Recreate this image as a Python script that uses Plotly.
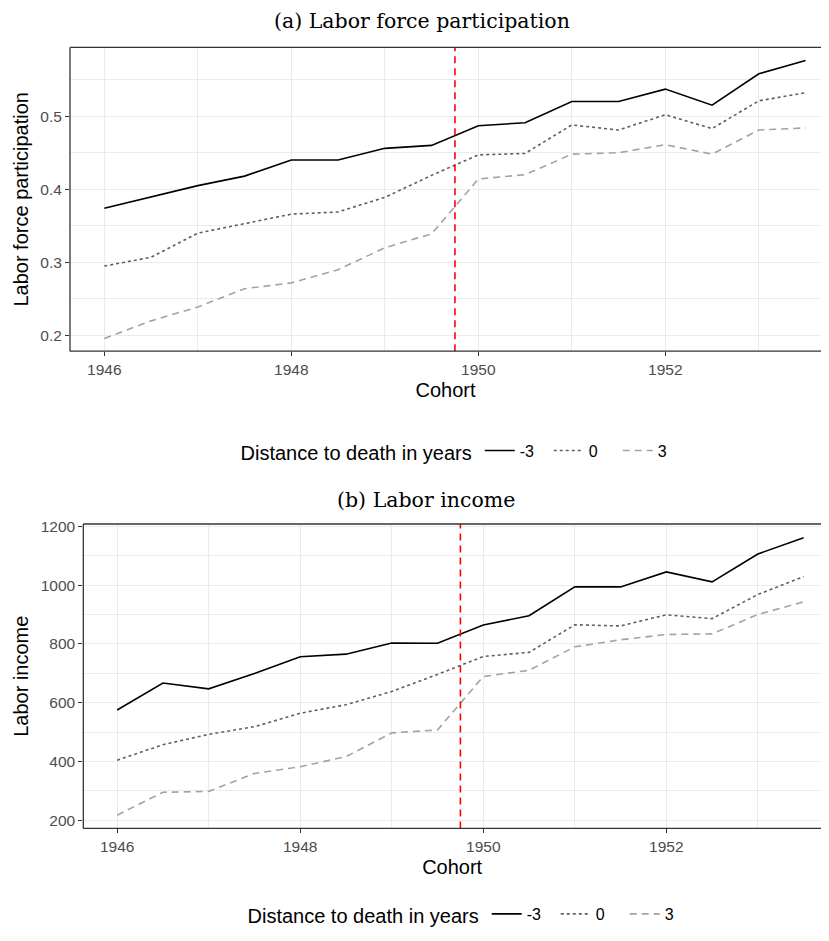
import plotly.graph_objects as go

# ---------------- data ----------------
cohort = [1946, 1946.5, 1947, 1947.5, 1948, 1948.5, 1949, 1949.5,
          1950, 1950.5, 1951, 1951.5, 1952, 1952.5, 1953, 1953.5]

lfp_m3 = [0.374, 0.390, 0.405, 0.418, 0.440, 0.440, 0.456, 0.460,
          0.487, 0.491, 0.520, 0.520, 0.537, 0.515, 0.558, 0.576]
lfp_0 = [0.295, 0.307, 0.340, 0.353, 0.366, 0.369, 0.389, 0.419,
         0.447, 0.449, 0.488, 0.481, 0.502, 0.483, 0.521, 0.532]
lfp_3 = [0.196, 0.220, 0.239, 0.264, 0.272, 0.290, 0.320, 0.339,
         0.414, 0.420, 0.448, 0.450, 0.461, 0.448, 0.481, 0.484]

inc_m3 = [575, 667, 647, 699, 756, 765, 803, 802,
          864, 896, 994, 994, 1045, 1011, 1106, 1161]
inc_0 = [404, 457, 492, 518, 564, 593, 638, 696,
         757, 771, 865, 861, 899, 886, 968, 1029]
inc_3 = [217, 295, 298, 359, 382, 416, 497, 507,
         689, 710, 790, 814, 832, 834, 900, 943]

series_names = ["-3", "0", "3"]
cutoff = 1949.75

titles = ["(a) Labor force participation", "(b) Labor income"]
y_titles = ["Labor force participation", "Labor income"]
x_title = "Cohort"
legend_title = "Distance to death in years"

# ---------------- style ----------------
# the page body has an 8px margin on every side; fit the figure inside it
OFF = 8
W, H = 829 - 2 * OFF, 941 - 2 * OFF
K = 0.988  # observed vertical scale of the rendered page
styles = [dict(color="#000000", width=1.6, dash="solid"),
          dict(color="#5f5f5f", width=1.6, dash="dot"),
          dict(color="#a3a3a3", width=1.6, dash="7px,5px")]
grid = "#EBEBEB"
border = "#333333"
tickfont = dict(family="Liberation Sans, Arial", size=15.5, color="#4D4D4D")
titlefont = dict(family="Liberation Sans, Arial", size=20, color="#000000")


def px_x(p):
    return (p - OFF) / W


def px_y(p):
    return 1 - (p / K - OFF) / H


fig = go.Figure()

panels = [
    dict(data=[lfp_m3, lfp_0, lfp_3], xa="x", ya="y", legend="legend"),
    dict(data=[inc_m3, inc_0, inc_3], xa="x2", ya="y2", legend="legend2"),
]

for p in panels:
    for name, vals, st in zip(series_names, p["data"], styles):
        fig.add_trace(go.Scatter(
            x=cohort, y=vals, mode="lines", name=name,
            line=dict(color=st["color"], width=st["width"], dash=st["dash"]),
            xaxis=p["xa"], yaxis=p["ya"], legend=p["legend"],
            showlegend=True))


def xaxis_cfg(domain, rng, anchor):
    return dict(
        domain=domain, range=rng, anchor=anchor,
        tickvals=[1946, 1948, 1950, 1952],
        ticktext=["1946", "1948", "1950", "1952"],
        ticks="outside", ticklen=4, tickwidth=1, tickcolor=border,
        tickfont=tickfont,
        showgrid=True, gridcolor=grid, gridwidth=1.3,
        minor=dict(tickvals=[1947, 1949, 1951, 1953], showgrid=True,
                   gridcolor=grid, gridwidth=0.8, ticks=""),
        showline=False,
        zeroline=False, automargin=False,
        title=dict(text=x_title, font=titlefont, standoff=6),
    )


def yaxis_cfg(domain, rng, anchor, tv, minor_tv, title):
    return dict(
        domain=domain, range=rng, anchor=anchor,
        tickvals=tv, ticktext=[str(v) for v in tv],
        ticks="outside", ticklen=4, tickwidth=1, tickcolor=border,
        tickfont=tickfont,
        showgrid=True, gridcolor=grid, gridwidth=1.3,
        minor=dict(tickvals=minor_tv, showgrid=True,
                   gridcolor=grid, gridwidth=0.8, ticks=""),
        showline=False,
        zeroline=False, automargin=False,
        title=dict(text=title, font=titlefont, standoff=6),
    )


# panels run past the visible right edge of the window
fig.update_layout(
    xaxis=xaxis_cfg([px_x(70), 1], [1945.633, 1953.665], "y"),
    yaxis=yaxis_cfg([px_y(350.7), px_y(47.3)], [0.1785, 0.594], "x",
                    [0.2, 0.3, 0.4, 0.5], [0.25, 0.35, 0.45, 0.55],
                    y_titles[0]),
    xaxis2=xaxis_cfg([px_x(83.3), 1], [1945.63, 1953.69], "y2"),
    yaxis2=yaxis_cfg([px_y(827.3), px_y(523.3)], [172, 1208], "x2",
                     [200, 400, 600, 800, 1000, 1200],
                     [300, 500, 700, 900, 1100], y_titles[1]),
)

for xa, ya in [("x", "y"), ("x2", "y2")]:
    fig.add_shape(type="line", xref=xa, yref=ya + " domain",
                  x0=cutoff, x1=cutoff, y0=0, y1=1,
                  line=dict(color="#FF0000", width=1.6, dash="7px,5px"),
                  layer="above")
    # panel border: left, top, bottom (right side lies outside the window)
    for (x0, y0, x1, y1) in [(0, 0, 0, 1), (0, 1, 1.02, 1), (0, 0, 1.02, 0)]:
        fig.add_shape(type="line", xref=xa + " domain", yref=ya + " domain",
                      x0=x0, y0=y0, x1=x1, y1=y1,
                      line=dict(color=border, width=1.3), layer="above")

legend_common = dict(
    orientation="h", xanchor="center", yanchor="middle",
    title=dict(text=legend_title, side="left",
               font=dict(family="Liberation Sans, Arial", size=20, color="#000")),
    font=dict(family="Liberation Sans, Arial", size=16, color="#000"),
    bgcolor="rgba(0,0,0,0)", itemwidth=30, traceorder="normal",
    entrywidth=24,
)

fig.update_layout(
    legend=dict(x=px_x(463), y=px_y(451), **legend_common),
    legend2=dict(x=px_x(470), y=1 - (925 - OFF) / H, **legend_common),
)

serif = dict(family="DejaVu Serif, Liberation Serif, serif", size=20.5, color="#000")
fig.add_annotation(text=titles[0], x=px_x(422), y=px_y(21), xref="paper",
                   yref="paper", showarrow=False, font=serif,
                   xanchor="center", yanchor="middle")
fig.add_annotation(text=titles[1], x=px_x(426), y=px_y(499), xref="paper",
                   yref="paper", showarrow=False, font=serif,
                   xanchor="center", yanchor="middle")

fig.update_layout(
    width=W, height=H,
    margin=dict(l=0, r=0, t=0, b=0),
    paper_bgcolor="white", plot_bgcolor="white",
)

fig.write_html("out.html")
